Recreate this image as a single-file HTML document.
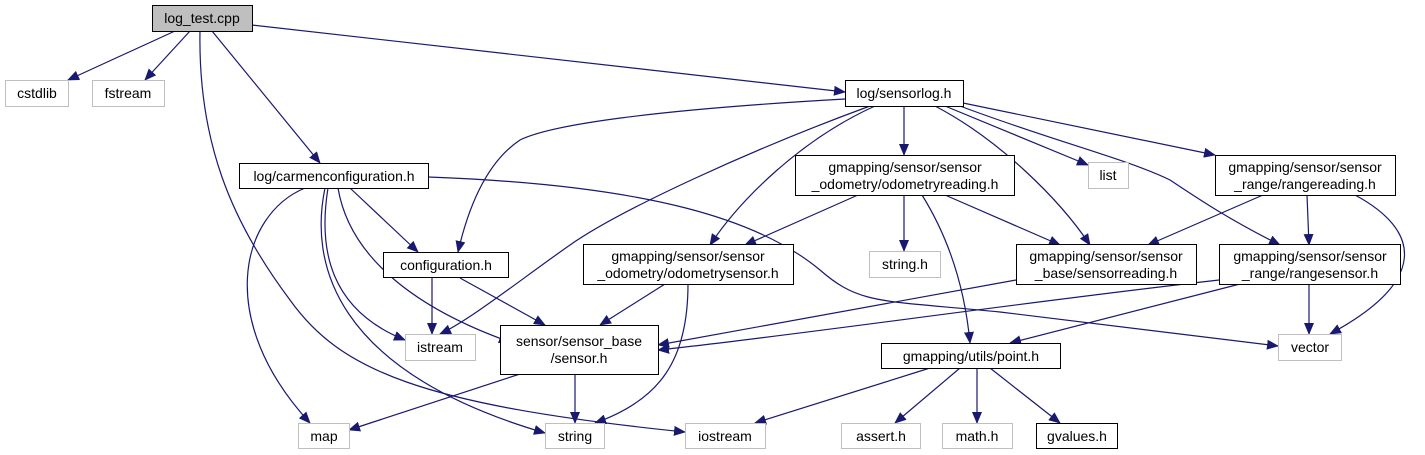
<!DOCTYPE html>
<html><head><meta charset="utf-8"><style>
html,body{margin:0;padding:0;background:#fff;}
svg{display:block;}
text{font-family:"Liberation Sans","DejaVu Sans",sans-serif;font-size:14px;fill:#000;}
.e{fill:none;stroke:#191970;stroke-width:1.2;marker-end:url(#a);}
.b{fill:#fff;stroke:#000;stroke-width:1;}
.g{fill:#fff;stroke:#bfbfbf;stroke-width:1;}
</style></head><body>
<svg width="1425" height="455" viewBox="0 0 1425 455" xmlns="http://www.w3.org/2000/svg">
<defs><marker id="a" markerWidth="12" markerHeight="10" refX="11" refY="5" orient="auto" markerUnits="userSpaceOnUse"><path d="M0,0 L12,5 L0,10 z" fill="#191970"/></marker></defs>
<path class="e" d="M175,31 L68,80"/>
<path class="e" d="M190,31 L145,80"/>
<path class="e" d="M212,31 L320,163"/>
<path class="e" d="M252,25 L845,92"/>
<path class="e" d="M200,31 C198,140 230,220 290,300 C340,370 420,405 685,432"/>
<path class="e" d="M305,188 C240,215 215,320 310,423"/>
<path class="e" d="M325,188 C310,260 330,370 545,433"/>
<path class="e" d="M328,188 C318,250 330,310 405,340"/>
<path class="e" d="M338,188 C350,260 420,310 510,342"/>
<path class="e" d="M350,188 L418,252"/>
<path class="e" d="M428,177 C650,185 760,220 820,270 C860,305 880,300 1000,312 L1278,346"/>
<path class="e" d="M432,278 L432,334"/>
<path class="e" d="M460,278 L545,325"/>
<path class="e" d="M845,99 C650,110 550,125 520,140 C490,160 470,200 458,252"/>
<path class="e" d="M870,106 C750,150 620,210 570,245 C520,280 470,320 440,334"/>
<path class="e" d="M875,106 C800,140 740,200 710,245"/>
<path class="e" d="M904,106 L904,155"/>
<path class="e" d="M935,106 C1000,140 1060,200 1090,245"/>
<path class="e" d="M945,106 L1088,165"/>
<path class="e" d="M960,106 C1050,140 1130,160 1170,180 C1200,200 1230,220 1280,245"/>
<path class="e" d="M963,103 L1215,155"/>
<path class="e" d="M858,195 L745,245"/>
<path class="e" d="M904,195 L904,251"/>
<path class="e" d="M945,195 L1060,245"/>
<path class="e" d="M922,195 C950,240 965,290 970,343"/>
<path class="e" d="M665,284 L600,325"/>
<path class="e" d="M688,284 C688,360 660,400 595,423"/>
<path class="e" d="M1263,195 L1148,245"/>
<path class="e" d="M1307,195 L1309,245"/>
<path class="e" d="M1355,195 C1420,230 1430,280 1330,334"/>
<path class="e" d="M1016,280 L658,345"/>
<path class="e" d="M1219,280 C1000,305 800,335 658,350"/>
<path class="e" d="M1240,284 L1010,343"/>
<path class="e" d="M1309,284 L1309,334"/>
<path class="e" d="M520,374 L349,430"/>
<path class="e" d="M575,374 L575,423"/>
<path class="e" d="M930,368 L755,423"/>
<path class="e" d="M960,368 L895,423"/>
<path class="e" d="M977,368 L977,423"/>
<path class="e" d="M990,368 L1060,423"/>
<rect x="152.5" y="5.5" width="100" height="26" fill="#bfbfbf" stroke="#000"/><text x="202" y="23" text-anchor="middle">log_test.cpp</text>
<rect class="g" x="5.5" y="80.5" width="63" height="26"/><text x="37" y="98" text-anchor="middle">cstdlib</text>
<rect class="g" x="92.5" y="80.5" width="72" height="26"/><text x="128" y="98" text-anchor="middle">fstream</text>
<rect class="b" x="845.5" y="80.5" width="118" height="26"/><text x="904" y="98" text-anchor="middle">log/sensorlog.h</text>
<rect class="b" x="239.5" y="163.5" width="189" height="25"/><text x="334" y="181" text-anchor="middle">log/carmenconfiguration.h</text>
<rect class="b" x="795.5" y="155.5" width="219" height="40"/><text x="905" y="172" text-anchor="middle">gmapping/sensor/sensor</text><text x="905" y="189" text-anchor="middle">_odometry/odometryreading.h</text>
<rect class="g" x="1088.5" y="162.5" width="40" height="26"/><text x="1108" y="180" text-anchor="middle">list</text>
<rect class="b" x="1215.5" y="155.5" width="180" height="40"/><text x="1305" y="172" text-anchor="middle">gmapping/sensor/sensor</text><text x="1305" y="189" text-anchor="middle">_range/rangereading.h</text>
<rect class="b" x="383.5" y="252.5" width="125" height="25"/><text x="446" y="270" text-anchor="middle">configuration.h</text>
<rect class="b" x="583.5" y="244.5" width="210" height="40"/><text x="688" y="261" text-anchor="middle">gmapping/sensor/sensor</text><text x="688" y="278" text-anchor="middle">_odometry/odometrysensor.h</text>
<rect class="g" x="869.5" y="251.5" width="71" height="26"/><text x="905" y="269" text-anchor="middle">string.h</text>
<rect class="b" x="1016.5" y="244.5" width="180" height="40"/><text x="1106" y="261" text-anchor="middle">gmapping/sensor/sensor</text><text x="1106" y="278" text-anchor="middle">_base/sensorreading.h</text>
<rect class="b" x="1219.5" y="244.5" width="181" height="40"/><text x="1310" y="261" text-anchor="middle">gmapping/sensor/sensor</text><text x="1310" y="278" text-anchor="middle">_range/rangesensor.h</text>
<rect class="g" x="405.5" y="334.5" width="70" height="26"/><text x="440" y="352" text-anchor="middle">istream</text>
<rect class="b" x="500.5" y="325.5" width="158" height="49"/><text x="579" y="346" text-anchor="middle">sensor/sensor_base</text><text x="579" y="363" text-anchor="middle">/sensor.h</text>
<rect class="b" x="881.5" y="343.5" width="179" height="25"/><text x="971" y="361" text-anchor="middle">gmapping/utils/point.h</text>
<rect class="g" x="1278.5" y="334.5" width="63" height="26"/><text x="1310" y="352" text-anchor="middle">vector</text>
<rect class="g" x="298.5" y="423.5" width="51" height="25"/><text x="324" y="441" text-anchor="middle">map</text>
<rect class="g" x="545.5" y="423.5" width="59" height="25"/><text x="575" y="441" text-anchor="middle">string</text>
<rect class="g" x="685.5" y="423.5" width="80" height="25"/><text x="725" y="441" text-anchor="middle">iostream</text>
<rect class="g" x="841.5" y="423.5" width="79" height="25"/><text x="881" y="441" text-anchor="middle">assert.h</text>
<rect class="g" x="942.5" y="423.5" width="70" height="25"/><text x="977" y="441" text-anchor="middle">math.h</text>
<rect class="b" x="1036.5" y="423.5" width="81" height="25"/><text x="1077" y="441" text-anchor="middle">gvalues.h</text>
</svg>
</body></html>
